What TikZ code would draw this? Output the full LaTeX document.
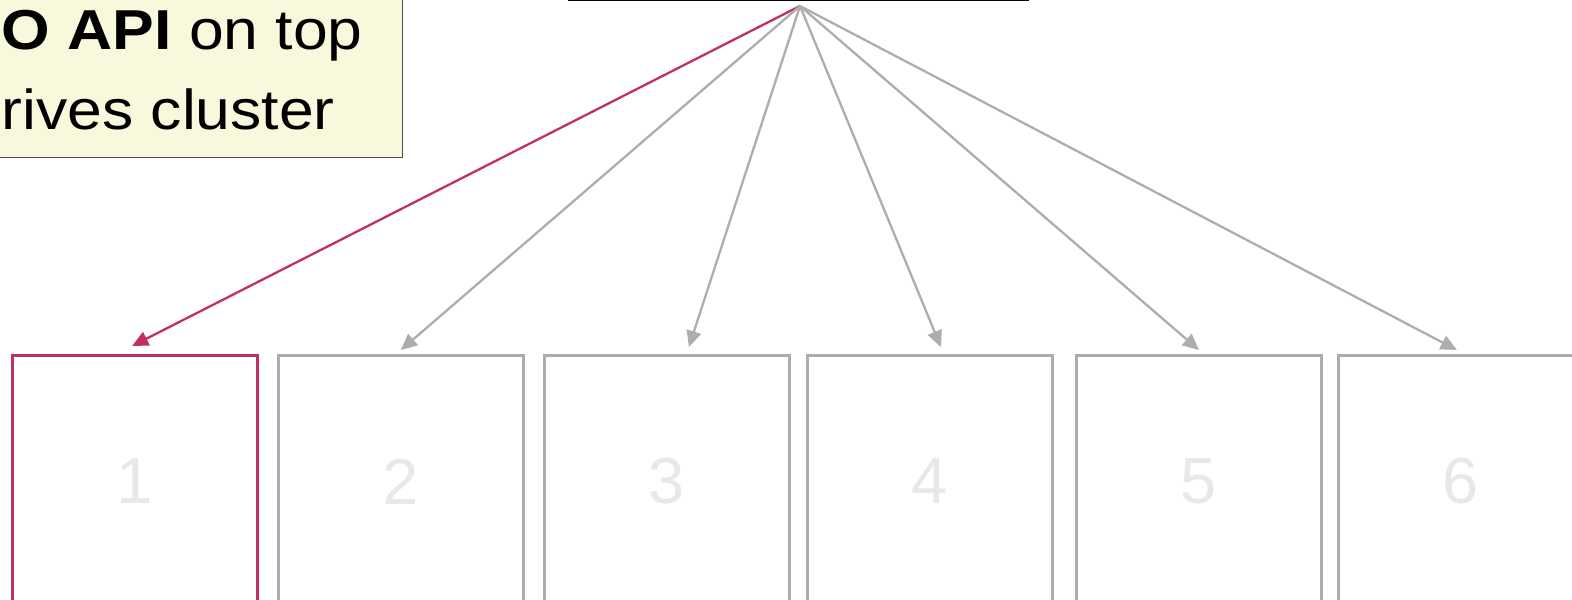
\documentclass[tikz,border=0pt]{standalone}
\usepackage{fontspec}
\setmainfont{Liberation Sans}
\newfontfamily\notefont[FakeStretch=1.11]{Liberation Sans}
\usetikzlibrary{positioning,arrows.meta,calc}

\definecolor{hitred}{HTML}{C2305C}
\definecolor{shardgray}{HTML}{ADADAD}
\definecolor{digitgray}{HTML}{E8E8E8}
\definecolor{noteyellow}{HTML}{F8F8DC}

\tikzset{
  shard/.style={draw=shardgray, line width=0.75pt, minimum width=2.45cm,
    minimum height=2.52cm, inner sep=0pt, anchor=north west,
    text=digitgray, font=\fontsize{18.5}{20}\selectfont},
  fanout/.style={draw=shardgray, line width=0.65pt,
    -{Triangle[length=4.6pt,width=4.2pt]}},
}

\begin{document}
\begin{tikzpicture}[x=0.01cm, y=-0.01cm]
        \useasboundingbox (0,0) rectangle (1572,600);
        \clip (0,0) rectangle (1572,600);

        % box above (only its bottom edge shows)
        \node[draw, line width=1.1pt, minimum width=4.57cm, minimum height=1cm,
              anchor=south] (client) at (798.5,1.4) {};
        \coordinate (src) at (800,6);

        % callout
        \node[draw=black!70, line width=0.4pt, fill=noteyellow, anchor=south east,
              minimum width=5cm, minimum height=2.2cm] (note) at (403,158) {};
        \node[anchor=base west, inner sep=0pt, font=\notefont\fontsize{16}{18}\selectfont]
            (note1) at (1,50) {\textbf{O API} on top};
        \node[anchor=base west, inner sep=0pt, font=\notefont\fontsize{16}{18}\selectfont]
            (note2) at (1,129) {rives cluster};

        % shards
        \node[shard, draw=hitred, line width=0.85pt] (b1) at (11,354) {1};
        \foreach \n/\x in {2/277, 3/543, 4/806, 5/1075, 6/1337}
            \node[shard] (b\n) at (\x,354) {\n};

        % requests
        \draw[fanout, draw=hitred, fill=hitred] (src) -- ($(b1.north)+(-3,-8)$);
        \draw[fanout, fill=shardgray] (src) -- ($(b2.north)+(0,-4)$);
        \draw[fanout, fill=shardgray] (src) -- ($(b3.north)+(22,-7)$);
        \draw[fanout, fill=shardgray] (src) -- ($(b4.north)+(11,-7)$);
        \draw[fanout, fill=shardgray] (src) -- ($(b5.north)+(0,-4)$);
        \draw[fanout, fill=shardgray] (src) -- ($(b6.north)+(-4,-4)$);
    \end{tikzpicture}
\end{document}
